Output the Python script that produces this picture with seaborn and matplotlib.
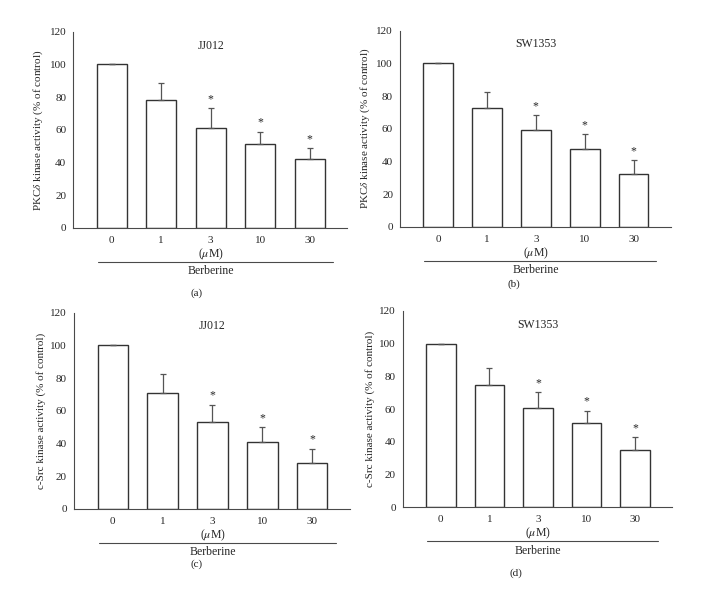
import matplotlib
matplotlib.use('Agg')
import matplotlib.pyplot as plt
import seaborn as sns
import numpy as np

# Data
doses = ['0', '1', '3', '10', '30']

pkc_jj012 = [100, 78.4, 61.0, 51.2, 42.0]
pkc_jj012_err = [0, 10.3, 12.3, 7.8, 6.7]
pkc_sw1353 = [100, 72.4, 59.0, 47.3, 32.2]
pkc_sw1353_err = [0, 9.8, 9.2, 9.2, 8.4]
src_jj012 = [100, 71.2, 52.9, 41.0, 28.2]
src_jj012_err = [0, 11.2, 10.6, 9.0, 8.5]
src_sw1353 = [100, 75.0, 60.7, 51.3, 35.1]
src_sw1353_err = [0, 10.3, 9.5, 7.8, 7.6]

significant = [False, False, True, True, True]

sns.set_style('white')
plt.rcParams['font.family'] = ['Liberation Serif', 'DejaVu Serif']
plt.rcParams['mathtext.fontset'] = 'stix'

AXIS_COLOR = '#4a4a4a'
EDGE_COLOR = '#333333'

fig = plt.figure(figsize=(7.03, 5.89), dpi=100)

panels = [
    # axes rect, title, ylabel, values, errors, panel label, label pos
    ([0.104, 0.613, 0.390, 0.333], 'JJ012', r'PKC$\delta$ kinase activity (% of control)',
     pkc_jj012, pkc_jj012_err, '(a)', (0.279, 0.503)),
    ([0.569, 0.615, 0.385, 0.333], 'SW1353', r'PKC$\delta$ kinase activity (% of control)',
     pkc_sw1353, pkc_sw1353_err, '(b)', (0.731, 0.518)),
    ([0.105, 0.136, 0.393, 0.333], 'JJ012', 'c-Src kinase activity (% of control)',
     src_jj012, src_jj012_err, '(c)', (0.279, 0.042)),
    ([0.573, 0.139, 0.383, 0.333], 'SW1353', 'c-Src kinase activity (% of control)',
     src_sw1353, src_sw1353_err, '(d)', (0.734, 0.027)),
]

for rect, title, ylabel, vals, errs, plabel, ppos in panels:
    ax = fig.add_axes(rect)
    sns.barplot(x=doses, y=vals, color='white', edgecolor=EDGE_COLOR,
                linewidth=1.0, width=0.61, errorbar=None, ax=ax)
    xpos = np.arange(len(doses))
    ax.errorbar(xpos, vals, yerr=[np.zeros(len(errs)), errs], fmt='none',
                ecolor='#555555', elinewidth=0.9, capsize=2.5, capthick=0.9)
    for x, v, e, s in zip(xpos, vals, errs, significant):
        if s:
            ax.text(x, v + e + 2.0, '*', ha='center', va='bottom', fontsize=8.5)

    ax.set_xlim(-0.78, 4.76)
    ax.set_ylim(0, 120)
    ax.set_yticks(range(0, 121, 20))
    ax.tick_params(axis='y', direction='out', length=3, width=0.7,
                   color=AXIS_COLOR, labelsize=8, pad=2)
    ax.tick_params(axis='x', length=0, labelsize=8, pad=6)
    for side in ['top', 'right']:
        ax.spines[side].set_visible(False)
    for side in ['left', 'bottom']:
        ax.spines[side].set_color(AXIS_COLOR)
        ax.spines[side].set_linewidth(0.8)

    ax.set_ylabel(ylabel, fontsize=8, labelpad=3)
    ax.set_xlabel('')
    ax.text(2.0, 0.93, title, transform=ax.get_xaxis_transform(),
            ha='center', va='center', fontsize=8.5)

    trans = ax.get_xaxis_transform()
    ax.text(2.0, -0.135, r'($\mu$M)', transform=trans, ha='center', va='center', fontsize=8.5)
    ax.plot([-0.28, 4.47], [-0.175, -0.175], transform=trans, color=AXIS_COLOR,
            linewidth=0.8, clip_on=False)
    ax.text(2.0, -0.222, 'Berberine', transform=trans, ha='center', va='center', fontsize=8.5)

    fig.text(ppos[0], ppos[1], plabel, ha='center', va='center', fontsize=8)

fig.savefig('out.png', dpi=100)
